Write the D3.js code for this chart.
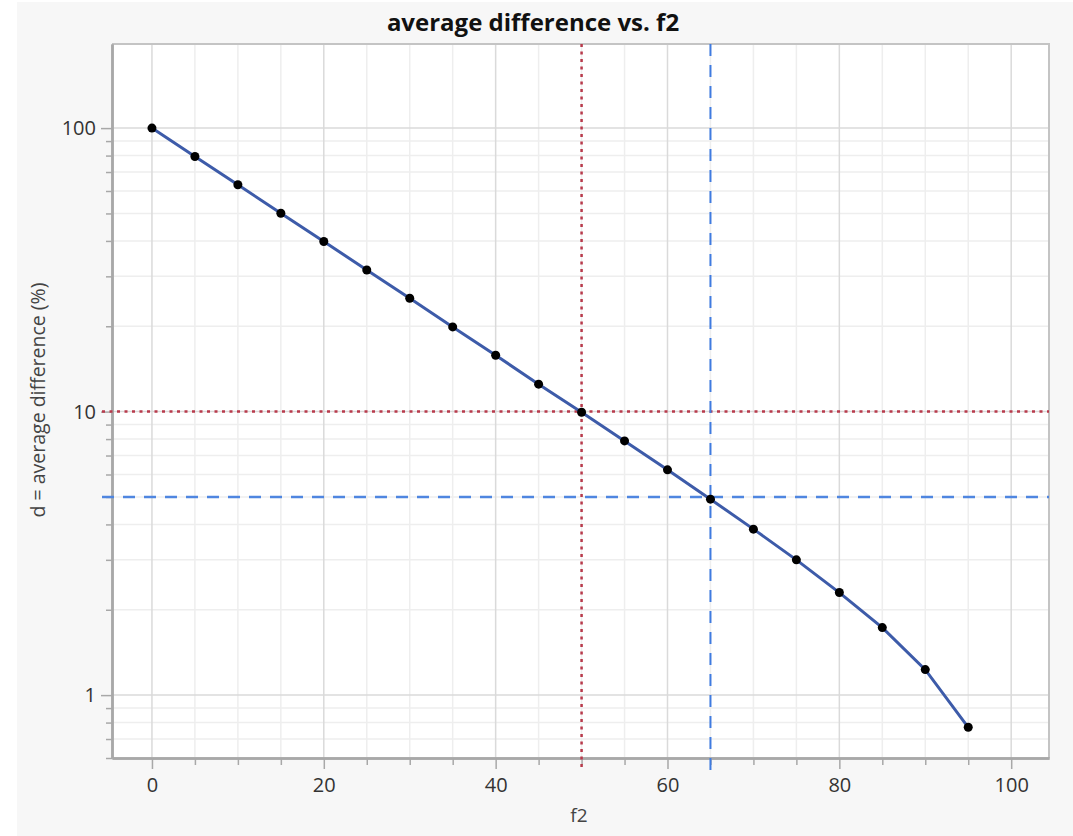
<!DOCTYPE html>
<html>
<head>
<meta charset="utf-8">
<script src="https://cdn.jsdelivr.net/npm/d3@7"></script>
<style>
  body { margin: 0; background: #ffffff; }
  svg { display: block; font-family: "Open Sans", "Noto Sans", sans-serif; }
</style>
</head>
<body>
<div id="chart"></div>
<script>
// data
var f2Values = [0, 5, 10, 15, 20, 25, 30, 35, 40, 45, 50, 55, 60, 65, 70, 75, 80, 85, 90, 95];
var dValues = [100, 79.4, 63.1, 50.1, 39.8, 31.6, 25.1, 19.9, 15.8, 12.5, 9.95, 7.88, 6.23, 4.91, 3.85, 3.0, 2.3, 1.73, 1.23, 0.77];
var xTickLabels = [0, 20, 40, 60, 80, 100];
var yTickLabels = [1, 10, 100];
var redRef = [50, 10];   // f2, d
var blueRef = [65, 5];

var data = f2Values.map((f, i) => ({f2: f, d: dValues[i]}));

var width = 1073, height = 836;
var margin = ({top: 44, right: 24, bottom: 78, left: 112});
var Gwidth = width - margin.left - margin.right;
var Gheight = height - margin.top - margin.bottom;

var svg = d3.select('#chart').append('svg')
    .attr('width', width)
    .attr('height', height);

svg.append('rect')
    .attr('x', 17).attr('y', 2)
    .attr('width', width - 17).attr('height', height - 2)
    .attr('fill', '#f7f7f7');

var topG = svg.append('g')
    .attr('transform', 'translate(' + margin.left + ',' + margin.top + ')');

var scaleX = d3.scaleLinear()
    .domain([-4.65, 104.4])
    .range([0, Gwidth]);

var scaleY = d3.scaleLog()
    .domain([0.6, 198])
    .range([Gheight, 0]);

topG.append('rect')
    .attr('width', Gwidth).attr('height', Gheight)
    .attr('fill', '#ffffff');

// minor values
var xMinor = d3.range(5, 100, 5).filter(v => v % 20 != 0);
var yMinor = [];
[0.1, 1, 10].forEach(dec => d3.range(2, 10).forEach(m => {
  var v = +(dec * m).toFixed(2);
  if (v >= 0.6 && v <= 198) yMinor.push(v);
}));

// gridlines
var grid = topG.append('g');
grid.selectAll('.ymin').data(yMinor).enter().append('line')
    .attr('x1', 0).attr('x2', Gwidth)
    .attr('y1', d => scaleY(d)).attr('y2', d => scaleY(d))
    .attr('stroke', '#eeeeee').attr('stroke-width', 1.5);
grid.selectAll('.xmin').data(xMinor).enter().append('line')
    .attr('y1', 0).attr('y2', Gheight)
    .attr('x1', d => scaleX(d)).attr('x2', d => scaleX(d))
    .attr('stroke', '#eeeeee').attr('stroke-width', 1.5);
grid.selectAll('.ymaj').data(yTickLabels).enter().append('line')
    .attr('x1', 0).attr('x2', Gwidth)
    .attr('y1', d => scaleY(d)).attr('y2', d => scaleY(d))
    .attr('stroke', '#dadada').attr('stroke-width', 1.5);
grid.selectAll('.xmaj').data(xTickLabels).enter().append('line')
    .attr('y1', 0).attr('y2', Gheight)
    .attr('x1', d => scaleX(d)).attr('x2', d => scaleX(d))
    .attr('stroke', '#dadada').attr('stroke-width', 1.5);

// frame top / right
topG.append('path')
    .attr('d', 'M0,0H' + Gwidth + 'V' + Gheight)
    .attr('fill', 'none')
    .attr('stroke', '#c4c4c4')
    .attr('stroke-width', 2);

// axes
var xAxis = topG.append('g')
    .attr('transform', 'translate(0,' + Gheight + ')');
xAxis.call(d3.axisBottom(scaleX).tickValues(xMinor).tickSize(7).tickSizeOuter(0).tickFormat(''));
xAxis.append('g').call(d3.axisBottom(scaleX).tickValues(xTickLabels).tickSize(11).tickSizeOuter(0).tickPadding(9).tickFormat(d3.format('')));

var yAxis = topG.append('g');
yAxis.call(d3.axisLeft(scaleY).tickValues(yMinor).tickSize(6).tickSizeOuter(0).tickFormat(''));
yAxis.append('g').call(d3.axisLeft(scaleY).tickValues(yTickLabels).tickSize(11).tickSizeOuter(0).tickPadding(5).tickFormat(d3.format('')));

topG.selectAll('.domain').attr('stroke', '#a8a8a8').attr('stroke-width', 2.5);
topG.selectAll('.tick line').attr('stroke', '#a8a8a8').attr('stroke-width', 1.5);
topG.selectAll('.tick text')
    .attr('fill', '#333333')
    .style('font-size', '20px')
    .style('font-family', '"Open Sans", sans-serif');

// reference lines
var refG = topG.append('g');
refG.append('line')
    .attr('x1', -10).attr('x2', Gwidth)
    .attr('y1', scaleY(redRef[1])).attr('y2', scaleY(redRef[1]))
    .attr('stroke', '#b83a4b').attr('stroke-width', 2.5).attr('stroke-dasharray', '3,4.5');
refG.append('line')
    .attr('y1', 0).attr('y2', Gheight + 12)
    .attr('x1', scaleX(redRef[0])).attr('x2', scaleX(redRef[0]))
    .attr('stroke', '#b83a4b').attr('stroke-width', 2.5).attr('stroke-dasharray', '3,4.5');
refG.append('line')
    .attr('x1', -10).attr('x2', Gwidth)
    .attr('y1', scaleY(blueRef[1])).attr('y2', scaleY(blueRef[1]))
    .attr('stroke', '#4f86e0').attr('stroke-width', 2.5).attr('stroke-dasharray', '12,9');
refG.append('line')
    .attr('y1', 0).attr('y2', Gheight + 12)
    .attr('x1', scaleX(blueRef[0])).attr('x2', scaleX(blueRef[0]))
    .attr('stroke', '#3f7be0').attr('stroke-width', 2).attr('stroke-dasharray', '12,9');

// line and points
var valueLine = d3.line()
    .x(d => scaleX(d.f2))
    .y(d => scaleY(d.d));

topG.append('path')
    .datum(data)
    .attr('d', valueLine)
    .attr('fill', 'none')
    .attr('stroke', '#3d5ba9')
    .attr('stroke-width', 3);

topG.selectAll('.dot')
    .data(data)
    .enter().append('circle')
    .attr('cx', d => scaleX(d.f2))
    .attr('cy', d => scaleY(d.d))
    .attr('r', 4.5)
    .attr('fill', '#000000');

// titles
svg.append('text')
    .attr('x', 533).attr('y', 31)
    .attr('text-anchor', 'middle')
    .style('font-size', '24px')
    .style('font-weight', 'bold')
    .attr('fill', '#111111')
    .text('average difference vs. f2');

svg.append('text')
    .attr('x', 579).attr('y', 822)
    .attr('text-anchor', 'middle')
    .style('font-size', '19px')
    .attr('fill', '#444444')
    .text('f2');

svg.append('text')
    .attr('transform', 'rotate(-90)')
    .attr('x', -400).attr('y', 45)
    .attr('text-anchor', 'middle')
    .style('font-size', '19.5px')
    .attr('fill', '#444444')
    .text('d = average difference (%)');
</script>
</body>
</html>
